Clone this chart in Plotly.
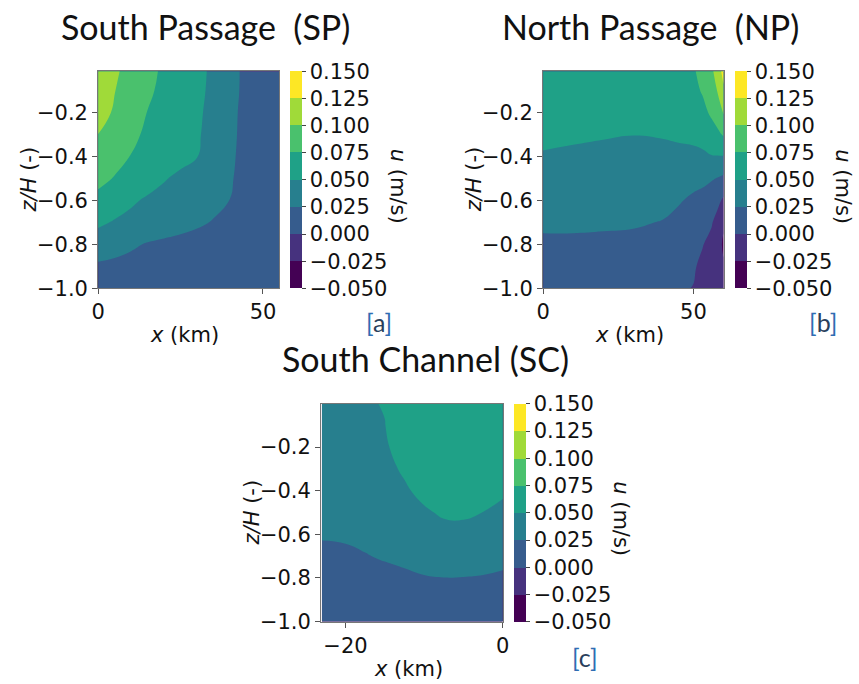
import plotly.graph_objects as go

# ---------------- data ----------------
level_start, level_end, level_step = -0.05, 0.15, 0.025
band_colors = ['#440154', '#46327e', '#365c8d', '#277f8e', '#1fa187', '#4ac16d', '#a0da39', '#fde725']
cbar_tickvals = [-0.05, -0.025, 0.0, 0.025, 0.05, 0.075, 0.1, 0.125, 0.15]
cbar_ticktext = ['−0.050', '−0.025', '0.000', '0.025', '0.050', '0.075', '0.100', '0.125', '0.150']
y_tickvals = [-0.2, -0.4, -0.6, -0.8, -1.0]

z_levels = [0.0, -0.1, -0.2, -0.3, -0.4, -0.5, -0.6, -0.7, -0.8, -0.9, -1.0]

# South Passage (SP)
sp_x = [0, 5, 10, 15, 20, 25, 30, 35, 40, 45, 50, 55]
sp_u = [
    [0.115, 0.104, 0.092, 0.081, 0.0717, 0.0637, 0.0557, 0.0461, 0.032, 0.020, 0.012, 0.008],
    [0.113, 0.1005, 0.0895, 0.0785, 0.0699, 0.0624, 0.0549, 0.0453, 0.0314, 0.020, 0.012, 0.008],
    [0.108, 0.0976, 0.0859, 0.0744, 0.0675, 0.0606, 0.0536, 0.0436, 0.0303, 0.019, 0.012, 0.008],
    [0.0998, 0.0898, 0.0795, 0.0714, 0.0651, 0.0587, 0.0524, 0.0422, 0.0294, 0.019, 0.012, 0.008],
    [0.0904, 0.0822, 0.0743, 0.0685, 0.0627, 0.0569, 0.0505, 0.0404, 0.0281, 0.019, 0.012, 0.008],
    [0.0808, 0.0738, 0.0664, 0.059, 0.0516, 0.0451, 0.0395, 0.0335, 0.0266, 0.019, 0.012, 0.008],
    [0.069, 0.061, 0.053, 0.0471, 0.0427, 0.0383, 0.0345, 0.0303, 0.0248, 0.018, 0.012, 0.008],
    [0.054, 0.0482, 0.0442, 0.0402, 0.0362, 0.0322, 0.0282, 0.0238, 0.0195, 0.015, 0.011, 0.008],
    [0.0383, 0.0333, 0.0282, 0.0235, 0.021, 0.019, 0.017, 0.015, 0.013, 0.011, 0.009, 0.007],
    [0.0217, 0.020, 0.018, 0.016, 0.015, 0.014, 0.013, 0.012, 0.011, 0.009, 0.008, 0.006],
    [0.012, 0.011, 0.010, 0.010, 0.009, 0.009, 0.008, 0.008, 0.007, 0.006, 0.006, 0.005],
]

# North Passage (NP)
np_x = [0, 10, 20, 30, 40, 45, 50, 53, 56, 58, 60]
np_u = [
    [0.065, 0.066, 0.067, 0.068, 0.069, 0.070, 0.073, 0.083, 0.096, 0.113, 0.135],
    [0.062, 0.063, 0.064, 0.065, 0.066, 0.067, 0.069, 0.077, 0.090, 0.101, 0.121],
    [0.058, 0.059, 0.060, 0.061, 0.061, 0.062, 0.063, 0.068, 0.079, 0.087, 0.102],
    [0.054, 0.0535, 0.0515, 0.0502, 0.0515, 0.053, 0.055, 0.058, 0.064, 0.070, 0.077],
    [0.0485, 0.046, 0.045, 0.045, 0.044, 0.045, 0.045, 0.046, 0.049, 0.049, 0.049],
    [0.041, 0.040, 0.040, 0.040, 0.037, 0.035, 0.032, 0.031, 0.027, 0.024, 0.020],
    [0.035, 0.035, 0.035, 0.035, 0.031, 0.027, 0.021, 0.017, 0.011, 0.006, -0.004],
    [0.029, 0.029, 0.0285, 0.0275, 0.024, 0.019, 0.013, 0.008, 0.002, -0.008, -0.022],
    [0.021, 0.021, 0.020, 0.019, 0.016, 0.011, 0.007, 0.001, -0.006, -0.017, -0.028],
    [0.014, 0.014, 0.013, 0.012, 0.009, 0.005, 0.002, -0.004, -0.010, -0.018, -0.023],
    [0.008, 0.008, 0.007, 0.006, 0.004, 0.002, -0.0005, -0.007, -0.011, -0.014, -0.016],
]

# South Channel (SC)
sc_x = [-23, -20, -17.5, -15, -12.5, -10, -7.5, -5, -2.5, 0]
sc_u = [
    [0.045, 0.047, 0.049, 0.0505, 0.057, 0.061, 0.064, 0.065, 0.064, 0.062],
    [0.044, 0.046, 0.048, 0.0498, 0.056, 0.060, 0.063, 0.064, 0.063, 0.061],
    [0.042, 0.044, 0.046, 0.0485, 0.055, 0.059, 0.062, 0.063, 0.062, 0.060],
    [0.040, 0.041, 0.043, 0.046, 0.052, 0.057, 0.060, 0.061, 0.060, 0.057],
    [0.037, 0.038, 0.039, 0.042, 0.048, 0.054, 0.057, 0.058, 0.056, 0.0525],
    [0.033, 0.034, 0.035, 0.037, 0.043, 0.048, 0.052, 0.0525, 0.0498, 0.046],
    [0.027, 0.028, 0.030, 0.032, 0.037, 0.042, 0.045, 0.045, 0.044, 0.040],
    [0.020, 0.021, 0.024, 0.027, 0.030, 0.035, 0.036, 0.036, 0.035, 0.0325],
    [0.014, 0.014, 0.016, 0.019, 0.021, 0.0235, 0.0248, 0.0245, 0.0235, 0.021],
    [0.010, 0.010, 0.011, 0.013, 0.014, 0.016, 0.017, 0.017, 0.017, 0.015],
    [0.007, 0.007, 0.008, 0.009, 0.010, 0.011, 0.012, 0.012, 0.012, 0.011],
]

titles = ['South Passage\u00a0 (SP)', 'North Passage\u00a0 (NP)', 'South Channel (SC)']
panel_tags = ['a', 'b', 'c']

# ---------------- styling ----------------
W, H = 859, 684
TICK_FONT = dict(family='DejaVu Sans', size=21, color='#111')
TITLE_FONT = dict(family='Lato', size=34, color='#111')

# contour fill colours: plotly samples the scale at k/9 for 9 levels
stops = [band_colors[0]] + band_colors + [band_colors[-1]]
contour_scale = [[k / 9, c] for k, c in enumerate(stops)]
# stepped scale for the colour bar
nb = len(band_colors)
bar_scale = []
for k, c in enumerate(band_colors):
    bar_scale.append([k / nb, c])
    bar_scale.append([(k + 1) / nb, c])


def fx(px):
    return px / W


def fy(py):
    return 1 - py / H


panels = [
    dict(x=sp_x, u=sp_u, xr=[0, 55], xt=[0, 50], yr=[-1.0, -0.012],
         l=92.7, r=277, t=72.7, b=293.3, cb=288),
    dict(x=np_x, u=np_u, xr=[0, 60.2], xt=[0, 50], yr=[-1.0, -0.012],
         l=545, r=729, t=72.7, b=293.3, cb=740),
    dict(x=sc_x, u=sc_u, xr=[-23.1, 0], xt=[-20, 0], yr=[-1.0, -0.003],
         l=319.3, r=504, t=411.3, b=632.7, cb=515),
]

fig = go.Figure()
layout = dict(width=W, height=H, margin=dict(l=0, r=0, t=0, b=0),
              paper_bgcolor='white', plot_bgcolor='white', showlegend=False)
annotations = []

for i, p in enumerate(panels):
    n = '' if i == 0 else str(i + 1)
    cy = fy((p['t'] + p['b']) / 2)
    clen = (p['b'] - p['t']) / H
    fig.add_trace(go.Contour(
        x=p['x'], y=z_levels, z=p['u'],
        xaxis='x' + n, yaxis='y' + n,
        colorscale=contour_scale, showscale=False,
        contours=dict(start=level_start, end=level_end, size=level_step,
                      coloring='fill', showlines=False),
        line=dict(width=0, smoothing=1.3),
        hoverinfo='skip',
    ))
    # invisible marker trace that carries the stepped colour bar
    fig.add_trace(go.Scatter(
        x=[p['x'][0]], y=[-0.5], mode='markers', xaxis='x' + n, yaxis='y' + n,
        hoverinfo='skip',
        marker=dict(size=0.1, opacity=0, color=[0.05], colorscale=bar_scale,
                    cmin=level_start, cmax=level_end, showscale=True,
                    colorbar=dict(
                        x=fx(p['cb']), xanchor='left', y=cy, yanchor='middle',
                        len=clen, lenmode='fraction', thickness=12, xpad=0, ypad=0,
                        outlinewidth=0,
                        tickvals=cbar_tickvals, ticktext=cbar_ticktext,
                        ticks='outside', ticklen=4, tickcolor='#444', tickwidth=1,
                        tickfont=TICK_FONT)),
    ))
    layout['xaxis' + n] = dict(
        domain=[fx(p['l']), fx(p['r'])], range=p['xr'], anchor='y' + n,
        tickvals=p['xt'], ticks='outside', ticklen=5, tickcolor='#555',
        tickfont=TICK_FONT, showgrid=False, zeroline=False,
        showline=True, linecolor='#777', linewidth=1, mirror=True)
    layout['yaxis' + n] = dict(
        domain=[fy(p['b']), fy(p['t'])], range=p['yr'], anchor='x' + n,
        tickvals=y_tickvals, tickformat='.1f', ticks='outside', ticklen=5,
        tickcolor='#555', tickfont=TICK_FONT, showgrid=False, zeroline=False,
        showline=True, linecolor='#777', linewidth=1, mirror=True)

    cxp = (p['l'] + p['r']) / 2
    # panel title
    annotations.append(dict(text=titles[i], x=fx(cxp + (17 if i < 2 else 14)),
                            y=fy(p['t'] - 46), xref='paper', yref='paper',
                            showarrow=False, font=TITLE_FONT,
                            xanchor='center', yanchor='middle'))
    # x-axis title
    annotations.append(dict(text='<i>x</i> (km)', x=fx(cxp - 4), y=fy(p['b'] + 48),
                            xref='paper', yref='paper', showarrow=False,
                            font=TICK_FONT, xanchor='center', yanchor='middle'))
    # y-axis title
    annotations.append(dict(text='<i>z/H</i> (-)', x=fx(p['l'] - 70.7), y=cy,
                            xref='paper', yref='paper', showarrow=False,
                            textangle=-90, font=TICK_FONT,
                            xanchor='center', yanchor='middle'))
    # colorbar title
    annotations.append(dict(text='<i>u</i> (m/s)', x=fx(p['cb'] + 109),
                            y=fy(p['t'] + 117), xref='paper', yref='paper',
                            showarrow=False, textangle=90, font=TICK_FONT,
                            xanchor='center', yanchor='middle'))
    # panel tag
    tag_x = p['cb'] + (90 if i < 2 else 73)
    tag_y = p['b'] + (34 if i < 2 else 36)
    annotations.append(dict(
        text='<span style="color:#2f6db3">[</span>' + panel_tags[i] +
             '<span style="color:#2f6db3">]</span>',
        x=fx(tag_x), y=fy(tag_y), xref='paper', yref='paper', showarrow=False,
        font=dict(family='Lato', size=25, color='#2a3f5c'),
        xanchor='center', yanchor='middle'))

layout['annotations'] = annotations
fig.update_layout(**layout)
fig.write_html('out.html')
